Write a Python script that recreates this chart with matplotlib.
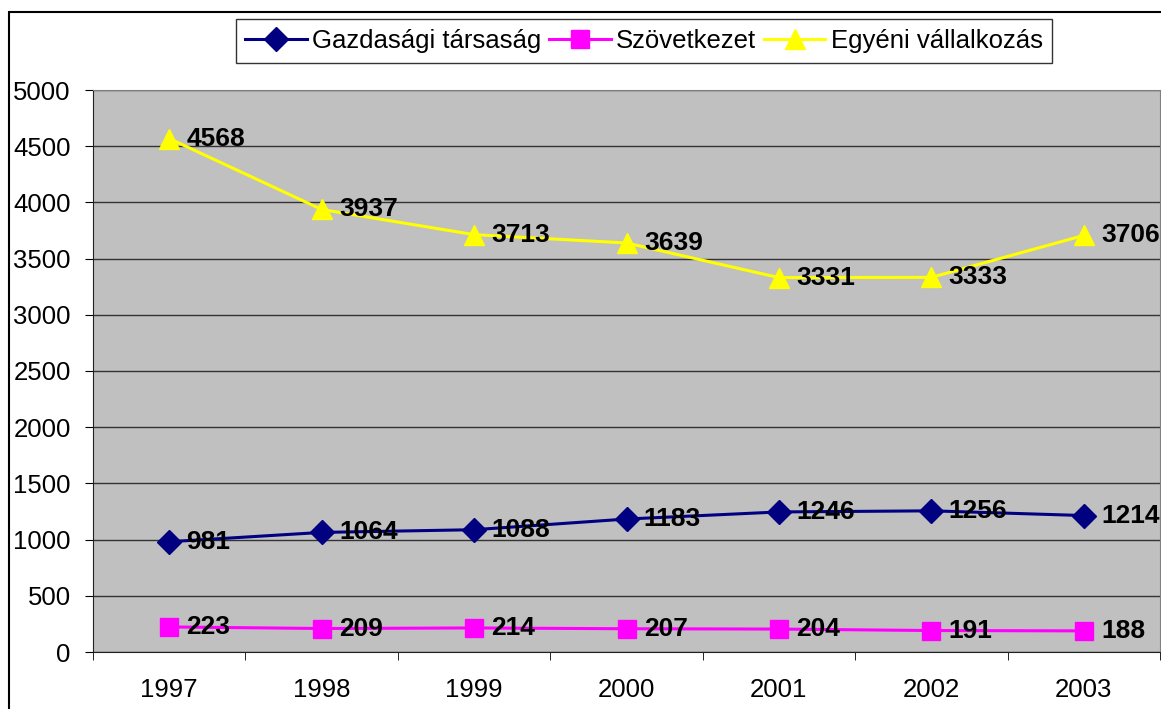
import matplotlib.pyplot as plt
from matplotlib.patches import Rectangle

years = ['1997', '1998', '1999', '2000', '2001', '2002', '2003']
gazdasagi = [981, 1064, 1088, 1183, 1246, 1256, 1214]
szovetkezet = [223, 209, 214, 207, 204, 191, 188]
egyeni = [4568, 3937, 3713, 3639, 3331, 3333, 3706]

plt.rcParams['font.family'] = ['Liberation Sans', 'DejaVu Sans']

W, H = 1161, 709
fig = plt.figure(figsize=(W / 100, H / 100), dpi=100)
ax = fig.add_axes([93 / W, (H - 652) / H, (1160 - 93) / W, (652 - 90) / H])
ax.set_facecolor('#c0c0c0')

# outer chart border
fig.patches.append(Rectangle((9 / W, -0.1), 1.2, 1 - 12 / H + 0.1, transform=fig.transFigure,
                             fill=False, edgecolor='black', linewidth=1.5))

x = list(range(len(years)))
series = [
    ('Gazdasági társaság', gazdasagi, '#000080', 'D', 12.5),
    ('Szövetkezet', szovetkezet, '#ff00ff', 's', 12.5),
    ('Egyéni vállalkozás', egyeni, '#ffff00', '^', 14.5),
]
for name, vals, col, mk, ms in series:
    ax.plot(x, vals, color=col, marker=mk, markersize=ms, linewidth=2.2, label=name, zorder=3)
    for xi, v in zip(x, vals):
        ax.annotate(str(v), (xi, v), xytext=(12.5, 0), textcoords='offset points',
                    ha='left', va='center', fontsize=19, fontweight='bold',
                    annotation_clip=False, zorder=4)

ax.set_xlim(-0.5, len(years) - 0.5)
ax.set_ylim(0, 5000)
ax.set_yticks(range(0, 5001, 500))
ax.tick_params(axis='y', labelsize=18.5, length=6, pad=10, direction='out')
ax.set_xticks(x)
ax.set_xticklabels(years)
ax.set_xticks([i - 0.5 for i in range(len(years) + 1)], minor=True)
ax.tick_params(axis='x', which='major', length=0, labelsize=18.5, pad=19)
ax.tick_params(axis='x', which='minor', length=6, direction='out')
ax.grid(axis='y', color='#333333', linewidth=1)
ax.set_axisbelow(True)
ax.spines['top'].set_color('#808080')
ax.spines['right'].set_color('#808080')
ax.spines['left'].set_color('#222222')
ax.spines['bottom'].set_color('#222222')

leg = fig.legend(loc='center', bbox_to_anchor=(644 / W, 1 - 41 / H), ncol=3, fontsize=18.5,
                 frameon=True, fancybox=False, edgecolor='black', handlelength=2.4,
                 columnspacing=0.3, handletextpad=0.2, borderpad=0.38)
leg.get_frame().set_linewidth(1)

fig.savefig('out.png', dpi=100)
